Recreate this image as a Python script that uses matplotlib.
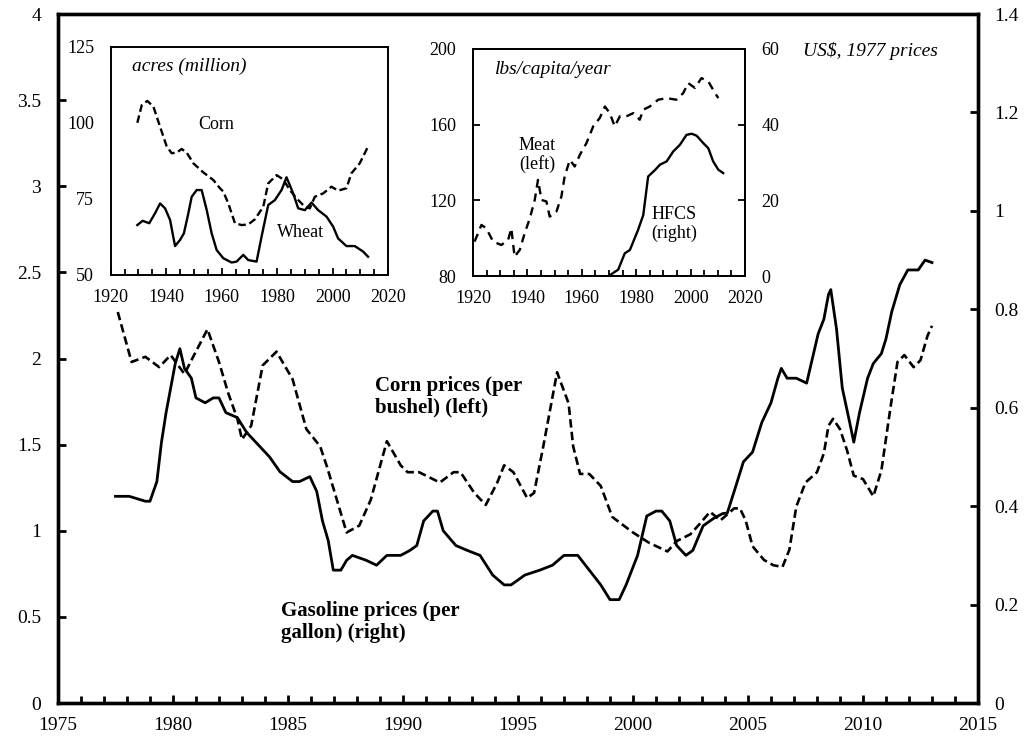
import numpy as np
import matplotlib.pyplot as plt

plt.rcParams['font.family'] = ['Liberation Serif', 'DejaVu Serif']

# main chart: corn price (left axis, US$ per bushel) and gasoline price (right axis, US$ per gallon)
corn_years = [1977.6, 1978.2, 1978.8, 1979.4, 1979.9, 1980.5, 1980.8, 1981.5, 1982.0, 1982.4,
              1982.8, 1983.0, 1983.4, 1983.9, 1984.5, 1985.2, 1985.8, 1986.4, 1986.7, 1987.55,
              1988.1, 1988.6, 1989.3, 1989.9, 1990.2, 1990.7, 1991.6, 1992.2, 1992.5, 1993.1,
              1993.6, 1994.1, 1994.4, 1994.8, 1995.4, 1995.7, 1996.1, 1996.7, 1997.2, 1997.4,
              1997.7, 1998.1, 1998.6, 1999.1, 2000.0, 2000.7, 2001.5, 2001.9, 2002.5, 2002.9,
              2003.35, 2003.8, 2004.4, 2004.65, 2004.9, 2005.2, 2005.7, 2006.1, 2006.5, 2006.8,
              2007.1, 2007.5, 2008.0, 2008.3, 2008.5, 2008.7, 2009.0, 2009.3, 2009.6, 2010.0,
              2010.45, 2010.8, 2011.2, 2011.5, 2011.8, 2012.2, 2012.5, 2012.8, 2013.0]
corn_price = [2.27, 1.98, 2.01, 1.95, 2.02, 1.91, 1.99, 2.17, 1.98, 1.80,
              1.65, 1.53, 1.61, 1.96, 2.04, 1.88, 1.59, 1.49, 1.37, 0.99,
              1.03, 1.18, 1.52, 1.38, 1.34, 1.34, 1.28, 1.34, 1.34, 1.22,
              1.15, 1.28, 1.38, 1.34, 1.19, 1.22, 1.49, 1.92, 1.74, 1.49,
              1.33, 1.33, 1.26, 1.08, 0.99, 0.93, 0.88, 0.94, 0.98, 1.04,
              1.11, 1.06, 1.13, 1.13, 1.06, 0.91, 0.83, 0.80, 0.79, 0.89,
              1.14, 1.28, 1.34, 1.45, 1.61, 1.65, 1.59, 1.47, 1.32, 1.30,
              1.20, 1.35, 1.72, 1.98, 2.02, 1.95, 1.99, 2.13, 2.19]

gas_years = [1977.5, 1978.1, 1978.8, 1979.0, 1979.3, 1979.5, 1979.7, 1980.1, 1980.3, 1980.5,
             1980.8, 1981.0, 1981.4, 1981.75, 1982.0, 1982.3, 1982.8, 1983.2, 1983.6, 1984.2,
             1984.65, 1985.2, 1985.5, 1985.95, 1986.25, 1986.5, 1986.75, 1986.97, 1987.3, 1987.55,
             1987.8, 1988.4, 1988.85, 1989.3, 1989.9, 1990.3, 1990.6, 1990.9, 1991.3, 1991.5,
             1991.75, 1992.3, 1992.8, 1993.35, 1993.9, 1994.4, 1994.7, 1995.3, 1995.95, 1996.5,
             1997.0, 1997.6, 1998.1, 1998.6, 1999.0, 1999.4, 1999.7, 2000.2, 2000.6, 2001.0,
             2001.25, 2001.6, 2001.9, 2002.3, 2002.6, 2003.05, 2003.5, 2003.9, 2004.1, 2004.4,
             2004.8, 2005.2, 2005.6, 2006.0, 2006.3, 2006.45, 2006.7, 2007.1, 2007.55, 2007.8,
             2008.05, 2008.3, 2008.5, 2008.6, 2008.85, 2009.1, 2009.4, 2009.6, 2009.85, 2010.2,
             2010.45, 2010.8, 2011.0, 2011.25, 2011.6, 2011.95, 2012.4, 2012.7, 2013.0]
gas_price = [0.42, 0.42, 0.41, 0.41, 0.45, 0.53, 0.59, 0.69, 0.72, 0.68,
             0.66, 0.62, 0.61, 0.62, 0.62, 0.59, 0.58, 0.55, 0.53, 0.50,
             0.47, 0.45, 0.45, 0.46, 0.43, 0.37, 0.33, 0.27, 0.27, 0.29,
             0.30, 0.29, 0.28, 0.30, 0.30, 0.31, 0.32, 0.37, 0.39, 0.39,
             0.35, 0.32, 0.31, 0.30, 0.26, 0.24, 0.24, 0.26, 0.27, 0.28,
             0.30, 0.30, 0.27, 0.24, 0.21, 0.21, 0.24, 0.30, 0.38, 0.39,
             0.39, 0.37, 0.32, 0.30, 0.31, 0.36, 0.375, 0.385, 0.386, 0.43,
             0.49, 0.51, 0.57, 0.61, 0.66, 0.68, 0.66, 0.66, 0.65, 0.70,
             0.75, 0.78, 0.83, 0.84, 0.76, 0.64, 0.575, 0.53, 0.59, 0.66,
             0.69, 0.71, 0.74, 0.795, 0.85, 0.88, 0.88, 0.90, 0.895]

# inset 1: harvested acres (million)
acre_corn_years = [1929.6, 1931.2, 1933.2, 1935.4, 1937.8, 1940.2, 1942.0, 1943.8, 1945.6, 1947.4,
                   1949.8, 1953.4, 1957.0, 1959.4, 1960.6, 1962.4, 1964.8, 1967.2, 1969.6, 1972.0,
                   1975.0, 1976.8, 1979.8, 1982.2, 1984.6, 1987.0, 1990.0, 1991.8, 1993.6, 1996.6,
                   1999.6, 2002.0, 2005.0, 2006.8, 2009.8, 2012.8]
acre_corn = [100, 105.8, 107.2, 105.3, 98.7, 92.2, 90, 90.2, 91.4, 90.2,
             86.7, 83.7, 81.2, 78.5, 77.4, 73.5, 67, 66.4, 66.6, 68.3,
             72.4, 80.1, 82.8, 81.4, 77.9, 75.2, 72.4, 71.9, 75.7, 76.8,
             79, 77.7, 78.5, 83.4, 86.7, 92.2]
acre_wheat_years = [1929.6, 1931.5, 1933.9, 1936.0, 1937.8, 1939.6, 1941.4, 1943.2, 1945.0, 1946.4,
                    1948.0, 1949.2, 1951.0, 1952.8, 1954.6, 1956.4, 1958.2, 1960.6, 1963.6, 1965.4,
                    1967.8, 1969.6, 1972.6, 1974.4, 1976.8, 1979.2, 1981.6, 1983.4, 1985.8, 1987.6,
                    1990.0, 1992.4, 1994.8, 1997.8, 2000.2, 2002.0, 2005.0, 2008.0, 2011.0, 2012.8]
acre_wheat = [66.4, 67.8, 67, 70.3, 73.5, 71.9, 68.1, 59.5, 61.5, 63.7,
              70.3, 75.7, 77.9, 77.9, 71.4, 63.7, 58.2, 55.5, 54.1, 54.4,
              56.6, 54.9, 54.4, 62.6, 73, 74.6, 77.9, 82.1, 76.8, 71.9,
              71.3, 73.8, 71.3, 69.2, 65.9, 62, 59.5, 59.5, 57.7, 56]

# inset 2: meat (lbs/capita/year, left) and HFCS (right)
meat_years = [1920.6, 1923.1, 1924.9, 1927.4, 1930.4, 1932.9, 1934.1, 1935.3, 1937.2, 1939.0,
              1940.9, 1942.7, 1943.9, 1945.2, 1947.0, 1948.2, 1950.7, 1952.5, 1953.7, 1955.6,
              1957.4, 1959.3, 1961.7, 1964.2, 1966.6, 1968.5, 1970.3, 1972.1, 1974.0, 1976.4,
              1978.9, 1981.3, 1982.6, 1985.0, 1988.1, 1991.2, 1994.8, 1997.3, 1999.1, 2001.6,
              2004.0, 2006.5, 2009.0, 2010.2]
meat = [98.2, 107, 105.2, 98.2, 96.4, 99, 105.2, 90.2, 93.8, 102.6,
        110.5, 120.2, 130.8, 120.2, 119.4, 111.4, 114.1, 122, 132.6, 141.4,
        137.9, 144.1, 150.2, 159.1, 163.5, 169.6, 166.1, 159.1, 164.4, 164.4,
        166.1, 162.6, 167.9, 169.6, 173.2, 174, 173.2, 176.7, 182, 179.4,
        184.6, 182.9, 176.7, 174]
hfcs_years = [1970.3, 1973.4, 1975.8, 1977.7, 1980.7, 1982.6, 1984.4, 1986.9, 1988.7, 1991.2,
              1993.6, 1996.1, 1998.5, 2000.4, 2002.2, 2004.7, 2006.5, 2008.3, 2010.2, 2012.0]
hfcs = [0.2, 1.7, 6, 6.9, 12.2, 16.1, 26.3, 28, 29.4, 30.3,
        32.9, 34.7, 37.3, 37.6, 37.1, 35.1, 33.8, 30.3, 28.1, 27.2]

DASH = (0, (3.2, 1.6))


def style_inset(a, sides):
    for s in a.spines.values():
        s.set_linewidth(1.4)
    a.tick_params(which='both', direction='in', labelsize=13, width=1.3)
    a.tick_params(which='major', length=5)
    a.tick_params(which='minor', length=4)
    a.tick_params(axis='x', which='major', pad=10)
    a.tick_params(axis='y', which='major', pad=12)
    a.tick_params(axis='y', which='both', left=sides[0], right=sides[1])
    a.set_xlim(1920, 2020)
    a.set_xticks(np.arange(1920, 2021, 20))
    a.set_xticks(np.arange(1920, 2021, 5), minor=True)
    a.patch.set_facecolor('white')


def run():
    fig = plt.figure(figsize=(10.26, 7.40), dpi=100)
    ax = fig.add_axes([0.0565, 0.05, 0.8967, 0.931])
    ax2 = ax.twinx()

    ax.plot(corn_years, corn_price, color='black', lw=1.9, linestyle=DASH)
    ax2.plot(gas_years, gas_price, color='black', lw=2.0)

    ax.set_xlim(1975, 2015)
    ax.set_ylim(0, 4)
    ax2.set_ylim(0, 1.4)
    ax.set_xticks(np.arange(1975, 2016, 5))
    ax.set_xticks(np.arange(1975, 2016, 1), minor=True)
    ax.set_yticks(np.arange(0, 4.01, 0.5))
    ax.set_yticklabels(['0', '0.5', '1', '1.5', '2', '2.5', '3', '3.5', '4'])
    ax2.set_yticks(np.arange(0, 1.41, 0.2))
    ax2.set_yticklabels(['0', '0.2', '0.4', '0.6', '0.8', '1', '1.2', '1.4'])
    for a in (ax, ax2):
        for s in a.spines.values():
            s.set_linewidth(2.4)
        a.tick_params(which='both', direction='in', labelsize=14, width=2)
        a.tick_params(which='major', length=6, pad=12)
        a.tick_params(which='minor', length=5)
    ax.tick_params(axis='x', which='major', pad=10)
    ax.tick_params(axis='y', which='both', right=False)

    ax.text(2007.4, 3.785, 'US$, 1977 prices', fontsize=14, style='italic', ha='left', va='center')
    ax.text(1988.8, 1.66, 'Corn prices (per\nbushel) (left)', fontsize=15, fontweight='bold',
            ha='left', va='bottom', linespacing=1.1)
    ax.text(1984.7, 0.47, 'Gasoline prices (per\ngallon) (right)', fontsize=15, fontweight='bold',
            ha='left', va='center', linespacing=1.1)

    # inset 1: acres
    in1 = fig.add_axes([0.1079, 0.6284, 0.2703, 0.3085])
    in1.plot(acre_corn_years, acre_corn, color='black', lw=1.7, linestyle=DASH)
    in1.plot(acre_wheat_years, acre_wheat, color='black', lw=1.7)
    in1.set_ylim(50, 125)
    in1.set_yticks([50, 75, 100, 125])
    style_inset(in1, (False, False))
    in1.text(1927.7, 118.7, 'acres (million)', fontsize=14, style='italic', va='center')
    in1.text(1958, 99.6, 'Corn', fontsize=13, ha='center', va='center')
    in1.text(1988.3, 64, 'Wheat', fontsize=13, ha='center', va='center')

    # inset 2: meat and HFCS
    in2 = fig.add_axes([0.461, 0.627, 0.2651, 0.3068])
    in2b = in2.twinx()
    in2.plot(meat_years, meat, color='black', lw=1.7, linestyle=(0, (3.5, 2.5)))
    in2b.plot(hfcs_years, hfcs, color='black', lw=1.7)
    in2.set_ylim(80, 200)
    in2.set_yticks([80, 120, 160, 200])
    in2b.set_ylim(0, 60)
    in2b.set_yticks([0, 20, 40, 60])
    style_inset(in2, (True, False))
    style_inset(in2b, (False, True))
    in2b.patch.set_visible(False)
    in2.text(1928, 188.9, 'lbs/capita/year', fontsize=14, style='italic', va='center')
    in2.text(1943.5, 144, 'Meat\n(left)', fontsize=13, ha='center', va='center', linespacing=1.1)
    in2.text(1993.9, 107.5, 'HFCS\n(right)', fontsize=13, ha='center', va='center', linespacing=1.1)

    fig.savefig('out.png', dpi=100)


run()
